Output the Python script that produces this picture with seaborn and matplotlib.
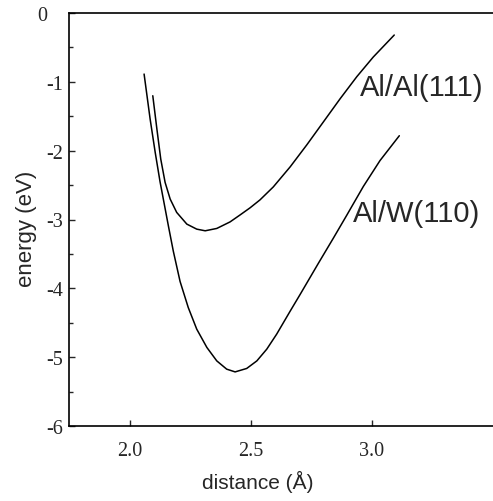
import matplotlib
matplotlib.use("Agg")
import matplotlib.pyplot as plt
import seaborn as sns
import pandas as pd
from matplotlib.ticker import MultipleLocator, FixedLocator

# ---- data ----
al_al_x = [2.094, 2.111, 2.127, 2.145, 2.166, 2.193, 2.235, 2.276, 2.311,
           2.359, 2.414, 2.455, 2.497, 2.538, 2.593, 2.663, 2.732, 2.800,
           2.870, 2.939, 3.007, 3.094]
al_al_y = [-1.202, -1.686, -2.122, -2.461, -2.703, -2.897, -3.067, -3.140,
           -3.164, -3.130, -3.035, -2.935, -2.830, -2.715, -2.527, -2.235,
           -1.915, -1.585, -1.245, -0.925, -0.640, -0.320]

al_w_x = [2.058, 2.083, 2.104, 2.124, 2.145, 2.159, 2.179, 2.207, 2.241,
          2.276, 2.318, 2.359, 2.400, 2.435, 2.483, 2.525, 2.566, 2.607,
          2.663, 2.704, 2.780, 2.842, 2.897, 2.966, 3.035, 3.115]
al_w_y = [-0.887, -1.541, -2.025, -2.450, -2.840, -3.100, -3.460, -3.900,
          -4.280, -4.593, -4.859, -5.054, -5.174, -5.214, -5.164, -5.054,
          -4.884, -4.666, -4.331, -4.090, -3.635, -3.270, -2.940, -2.520,
          -2.144, -1.783]

series_names = ["Al/Al(111)", "Al/W(110)"]
label_pos = [(2.952, -1.08), (2.923, -2.91)]

x_ticks = [2.0, 2.5, 3.0]
x_tick_labels = ["2.0", "2.5", "3.0"]
y_ticks = [0, -1, -2, -3, -4, -5, -6]
y_tick_labels = ["0", "-1", "-2", "-3", "-4", "-5", "-6"]

df = pd.concat([
    pd.DataFrame({"distance": al_al_x, "energy": al_al_y, "system": series_names[0]}),
    pd.DataFrame({"distance": al_w_x, "energy": al_w_y, "system": series_names[1]}),
])

sns.set_style("white")
fig = plt.figure(figsize=(4.93, 5.02), dpi=100)
ax = fig.add_axes([69 / 493, 1 - 427 / 502, 1 - 69 / 493, (427 - 14) / 502])

sns.lineplot(data=df, x="distance", y="energy", units="system", estimator=None,
             sort=False, color="black", linewidth=1.1, legend=False, ax=ax)
for ln in ax.lines:
    ln.set_solid_joinstyle("round")

ax.set_xlim(1.747, 3.503)
ax.set_ylim(-6, 0)

for s in ["top", "bottom", "left"]:
    ax.spines[s].set_visible(True)
    ax.spines[s].set_color("black")
    ax.spines[s].set_linewidth(1.2)
ax.spines["right"].set_visible(False)

ax.xaxis.set_major_locator(FixedLocator(x_ticks))
ax.set_xticklabels(x_tick_labels)
ax.yaxis.set_major_locator(FixedLocator(y_ticks))
labels = [t if t != "0" else "0   " for t in y_tick_labels]
ax.set_yticklabels(labels)
ax.yaxis.set_minor_locator(MultipleLocator(0.5))

ax.tick_params(axis="x", which="major", direction="in", length=4, width=1,
               bottom=True, top=False, pad=11, labelsize=14.5)
ax.tick_params(axis="y", which="major", direction="in", length=4, width=1,
               left=True, right=False, pad=4, labelsize=14.5)
ax.tick_params(axis="y", which="minor", direction="in", length=3, width=1,
               left=True, right=False)
for lab in ax.get_xticklabels() + ax.get_yticklabels():
    lab.set_family(["Liberation Serif", "DejaVu Serif"])

ax.set_xlabel("distance (Å)", fontsize=15, family="Liberation Sans", va="center")
ax.xaxis.set_label_coords(0.446, -0.133)
ax.set_ylabel("energy (eV)", fontsize=16, family="Liberation Sans", va="center")
ax.yaxis.set_label_coords(-0.100, 0.479)

for name, (lx, ly) in zip(series_names, label_pos):
    ax.text(lx, ly, name, fontsize=21, family="Liberation Sans",
            ha="left", va="center")

fig.savefig("out.png", dpi=100)
